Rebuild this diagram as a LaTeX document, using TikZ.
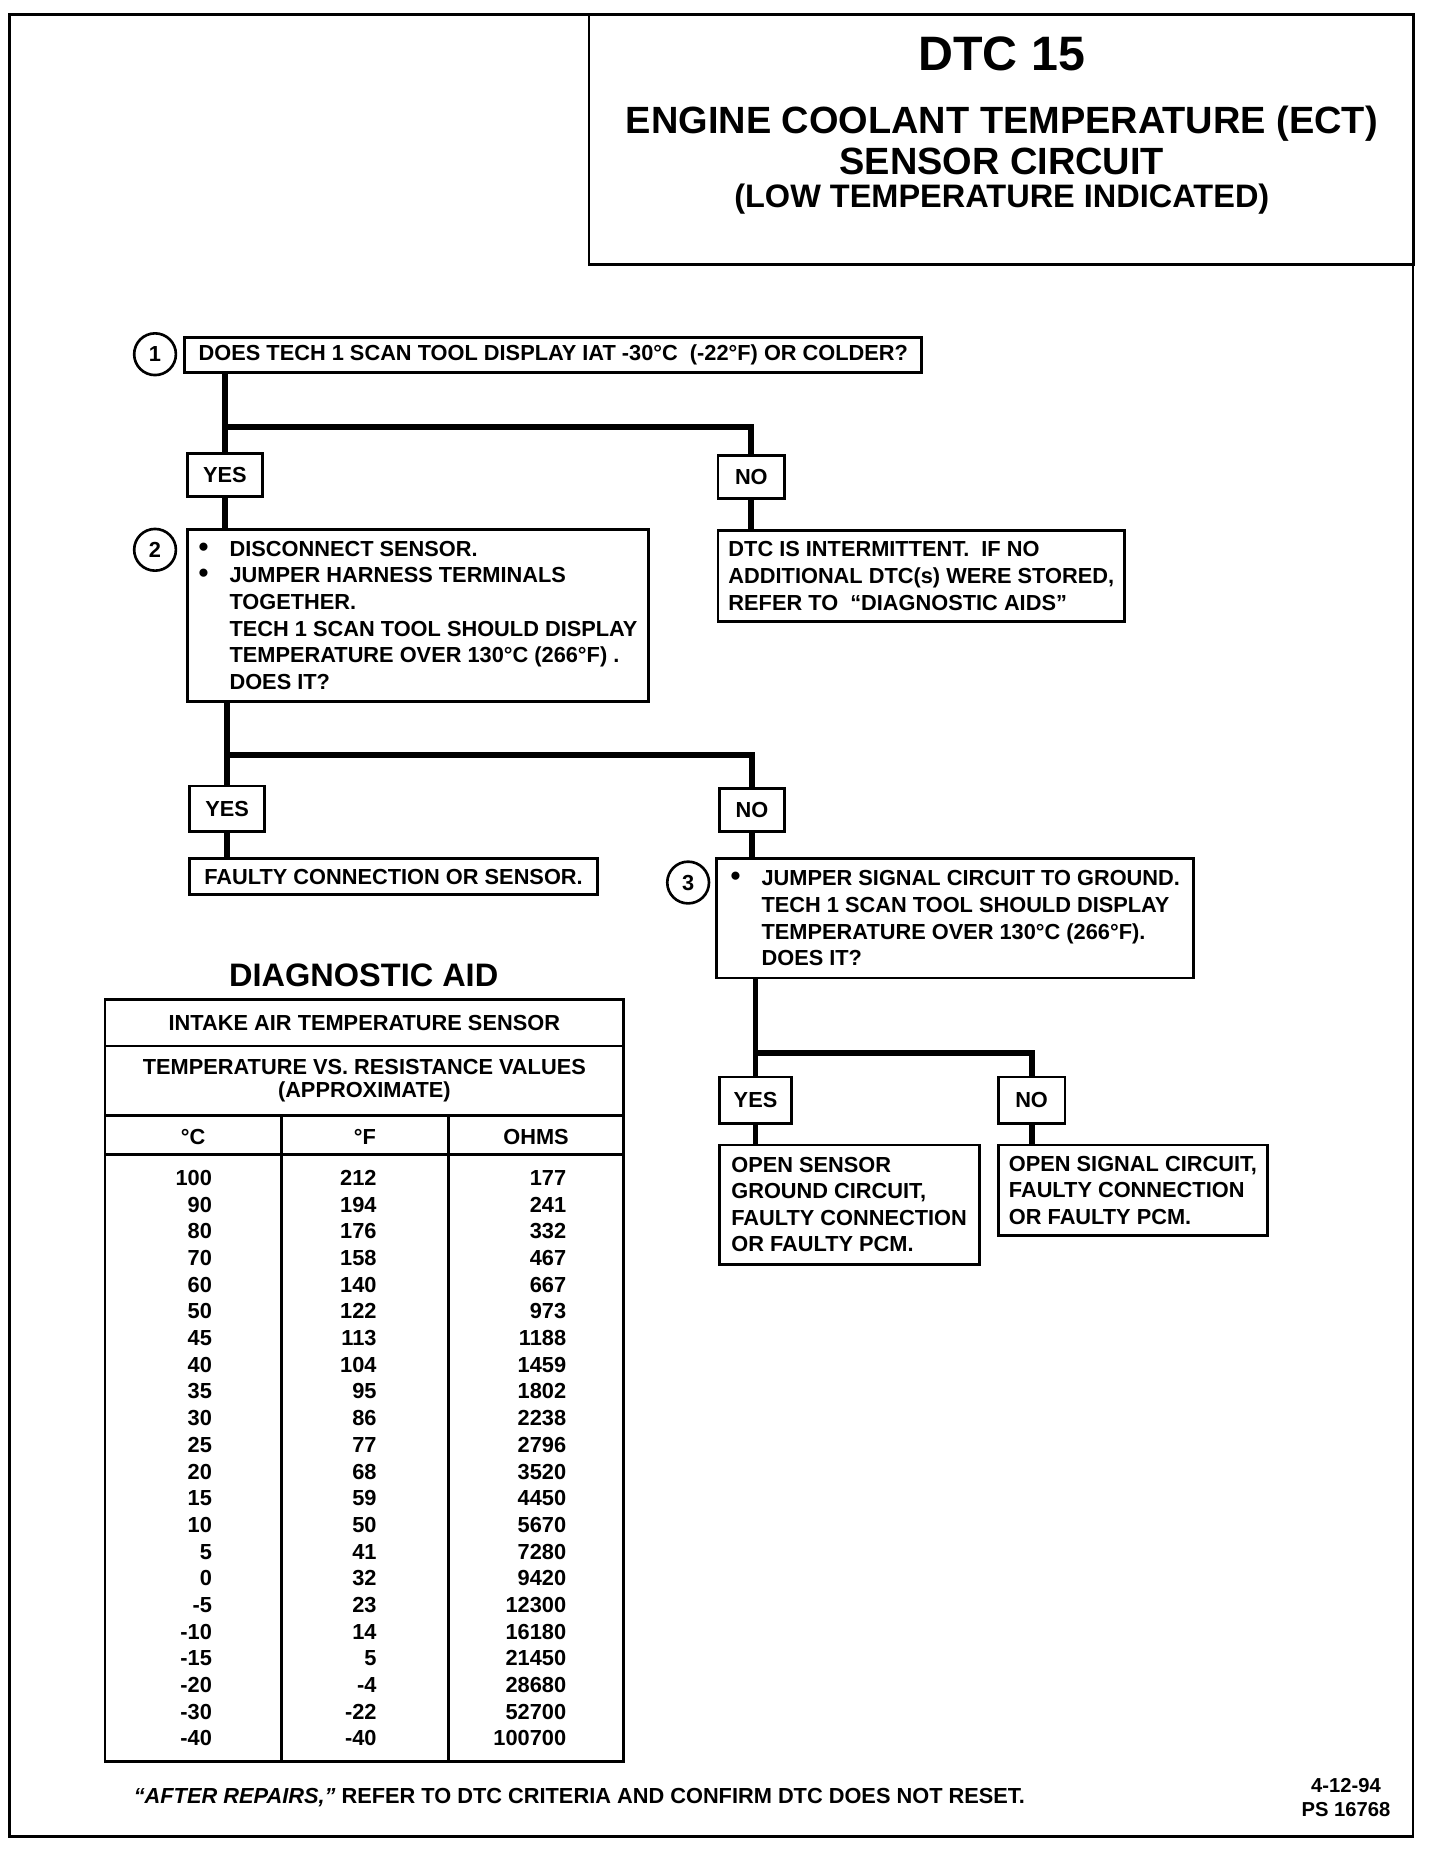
\documentclass[tikz,border=0pt]{standalone}
\usepackage{fontspec}
\setmainfont{Liberation Sans}
\usetikzlibrary{positioning}
\newlength{\pu}
\setlength{\pu}{0.2386mm}
\newcommand{\bul}{\makebox[26\pu][l]{\scalebox{1.3}{\textbullet}}}
\newcommand{\indt}{\hspace*{26\pu}}

\begin{document}
\begin{tikzpicture}[x=0.2386mm, y=-0.2386mm, font=\fontsize{12.4}{15.15}\selectfont\bfseries]
  \tikzset{box/.style={draw, line width=1.6pt, inner sep=0pt, align=left},
    ans/.style={draw, line width=1.6pt, inner sep=0pt},
    conn/.style={line width=3.3pt},
    num/.style={draw, circle, line width=1.5pt, minimum size=35\pu, inner sep=0pt},
    tab/.style={line width=1.6pt},
    cell/.style={anchor=base east, inner sep=0pt}}
  \useasboundingbox (0,0) rectangle (1207,1568);
  \draw[line width=1.4pt] (8,12) rectangle (1185,1540);

  \node[draw, line width=1.5pt, minimum width=691\pu, minimum height=210\pu, inner sep=0pt] (head) at (839.5,117) {};
  \node[font=\fontsize{27.5}{30}\selectfont\bfseries] (dtc) at (840,45) {DTC 15};
  \node[font=\fontsize{21.6}{26}\selectfont\bfseries] (ttl1) at (840,104) {ENGINE COOLANT TEMPERATURE (ECT)};
  \node[font=\fontsize{21.6}{26}\selectfont\bfseries] (ttl2) at (840,135) {SENSOR CIRCUIT};
  \node[font=\fontsize{18.5}{22}\selectfont\bfseries] (ttl3) at (840,167) {(LOW TEMPERATURE INDICATED)};

  \node[num] (n1) at (130,297) {1};
  \node[box, minimum width=618\pu, minimum height=29\pu] (q1) at (464,297.5) {DOES TECH 1 SCAN TOOL DISPLAY IAT -30°C \ (-22°F) OR COLDER?};
  \node[ans, minimum width=63\pu, minimum height=36\pu] (y1) at (188.5,398) {YES};
  \node[ans, minimum width=56\pu, minimum height=36\pu] (no1) at (630,400) {NO};

  \node[num] (n2) at (130,461) {2};
  \node[box, minimum width=387\pu, minimum height=144\pu] (q2) at (350.5,516) {\bul DISCONNECT SENSOR.\\\bul JUMPER HARNESS TERMINALS\\\indt TOGETHER.\\\indt TECH 1 SCAN TOOL SHOULD DISPLAY\\\indt TEMPERATURE OVER 130°C (266°F) .\\\indt DOES IT?};
  \node[box, minimum width=341\pu, minimum height=76\pu] (r1) at (772.5,483) {DTC IS INTERMITTENT. \ IF NO\\ADDITIONAL DTC(s) WERE STORED,\\REFER TO \ “DIAGNOSTIC AIDS”};
  \node[ans, minimum width=63\pu, minimum height=38\pu] (y2) at (190.5,678) {YES};
  \node[ans, minimum width=55\pu, minimum height=36\pu] (no2) at (630.5,679) {NO};
  \node[box, minimum width=342\pu, minimum height=30\pu] (r2) at (330,735) {FAULTY CONNECTION OR SENSOR.};

  \node[num] (n3) at (577,740) {3};
  \node[box, minimum width=400\pu, minimum height=100\pu] (q3) at (801,770) {\bul JUMPER SIGNAL CIRCUIT TO GROUND.\\\indt TECH 1 SCAN TOOL SHOULD DISPLAY\\\indt TEMPERATURE OVER 130°C (266°F).\\\indt DOES IT?};
  \node[ans, minimum width=61\pu, minimum height=39\pu] (y3) at (633.5,922.5) {YES};
  \node[ans, minimum width=56\pu, minimum height=39\pu] (no3) at (865,922.5) {NO};
  \node[box, minimum width=218\pu, minimum height=100\pu] (r3) at (712,1010) {OPEN SENSOR\\GROUND CIRCUIT,\\FAULTY CONNECTION\\OR FAULTY PCM.};
  \node[box, minimum width=226\pu, minimum height=76\pu] (r4) at (950,998) {OPEN SIGNAL CIRCUIT,\\FAULTY CONNECTION\\OR FAULTY PCM.};

  \coordinate (s1) at (0,358);
  \coordinate (s2) at (0,633);
  \coordinate (s3) at (0,883);
  \draw[conn] (q1.south -| y1.north) -- (y1.north);
  \draw[conn] (s1 -| y1.north) -| (no1.north);
  \draw[conn] (y1.south) -- (y1.south |- q2.north);
  \draw[conn] (no1.south) -- (no1.south |- r1.north);
  \draw[conn] (q2.south -| y2.north) -- (y2.north);
  \draw[conn] (s2 -| y2.north) -| (no2.north);
  \draw[conn] (y2.south) -- (y2.south |- r2.north);
  \draw[conn] (no2.south) -- (no2.south |- q3.north);
  \draw[conn] (q3.south -| y3.north) -- (y3.north);
  \draw[conn] (s3 -| y3.north) -| (no3.north);
  \draw[conn] (y3.south) -- (y3.south |- r3.north);
  \draw[conn] (no3.south) -- (no3.south |- r4.north);

  \node[font=\fontsize{18.5}{22}\selectfont\bfseries] (aid) at (305,818) {DIAGNOSTIC AID};
  \draw[tab] (88,838) rectangle (523,1477);
  \draw[tab] (88,877) -- (523,877) (88,935) -- (523,935) (88,968) -- (523,968);
  \draw[tab] (236,935) -- (236,1477) (376,935) -- (376,1477);
  \node (iat) at (305.5,858) {INTAKE AIR TEMPERATURE SENSOR};
  \node[align=center, font=\fontsize{12.4}{13.5}\selectfont\bfseries] (tvr) at (305.5,906) {TEMPERATURE VS. RESISTANCE VALUES\\(APPROXIMATE)};
  \node (hc) at (162,953) {°C};
  \node (hf) at (306,953) {°F};
  \node (ho) at (449.5,953) {OHMS};
  \foreach \c/\f/\o [count=\i from 0] in {100/212/177, 90/194/241, 80/176/332, 70/158/467, 60/140/667, 50/122/973, 45/113/1188, 40/104/1459, 35/95/1802, 30/86/2238, 25/77/2796, 20/68/3520, 15/59/4450, 10/50/5670, 5/41/7280, 0/32/9420, -5/23/12300, -10/14/16180, -15/5/21450, -20/-4/28680, -30/-22/52700, -40/-40/100700} {
    \node[cell] (c\i) at (178,994+22.38*\i) {\c};
    \node[cell] (f\i) at (316,994+22.38*\i) {\f};
    \node[cell] (o\i) at (475,994+22.38*\i) {\o};
  }

  \node[anchor=west] (note) at (107,1507) {\textit{“AFTER REPAIRS,”} REFER TO DTC CRITERIA AND CONFIRM DTC DOES NOT RESET.};
  \node[align=center, anchor=east, font=\fontsize{11.5}{13.5}\selectfont\bfseries] (date) at (1171,1507) {4-12-94\\PS 16768};
\end{tikzpicture}
\end{document}
